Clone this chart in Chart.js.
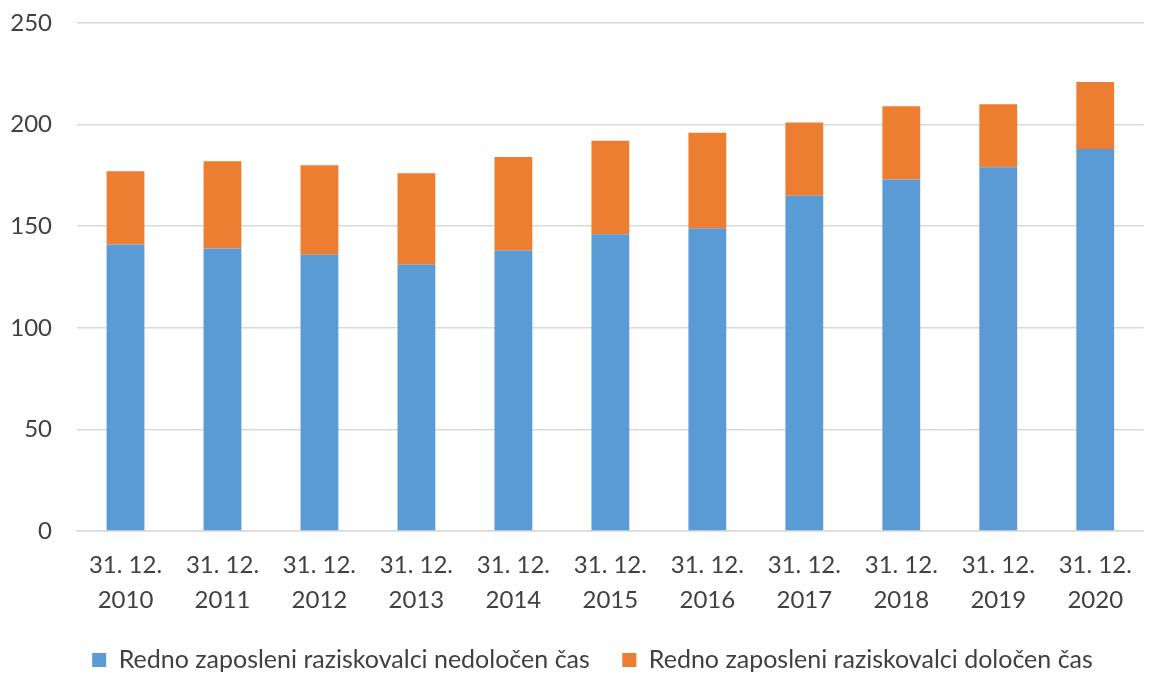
<!DOCTYPE html>
<html>
<head>
<meta charset="utf-8">
<script src="https://cdn.jsdelivr.net/npm/chart.js@4"></script>
<style>
    html, body { margin: 0; padding: 0; background: #fff; }
    #wrap { width: 1149px; height: 673px; }
</style>
</head>
<body>
<div id="wrap"><canvas id="researchers"></canvas></div>
<script>
var years = ['2010', '2011', '2012', '2013', '2014', '2015', '2016', '2017', '2018', '2019', '2020'];
var permanent = [141, 139, 136, 131, 138, 146, 149, 165, 173, 179, 188];
var temporary = [36, 43, 44, 45, 46, 46, 47, 36, 36, 31, 33];
var yTicks = [0, 50, 100, 150, 200, 250];

var labels = years.map(function (y) { return ['31. 12.', y]; });

Chart.defaults.font.family = 'Lato, "Open Sans", sans-serif';
Chart.defaults.color = '#404040';

// nudge the legend a little to the right, like in the original
var legendShift = {
    id: 'legendShift',
    afterLayout: function (chart) {
        chart.legend.left += 20;
        chart.legend.right += 20;
    }
};

const ctx = document.getElementById('researchers');

var researchersChart = new Chart(ctx, {
    type: 'bar',
    data: {
        labels: labels,
        datasets: [{
            label: 'Redno zaposleni raziskovalci nedoločen čas',
            data: permanent,
            backgroundColor: '#5B9BD5'
        }, {
            label: 'Redno zaposleni raziskovalci določen čas',
            data: temporary,
            backgroundColor: '#ED7D31'
        }]
    },
    plugins: [legendShift],
    options: {
        responsive: true,
        maintainAspectRatio: false,
        animation: false,
        layout: {
            padding: { top: 23, right: 4, left: 0, bottom: -9.5 }
        },
        datasets: {
            bar: {
                barPercentage: 0.39,
                categoryPercentage: 1
            }
        },
        plugins: {
            legend: {
                position: 'bottom',
                labels: {
                    boxWidth: 14,
                    boxHeight: 14,
                    padding: 32.5,
                    font: { size: 25 },
                    color: '#404040'
                }
            },
            tooltip: { enabled: false }
        },
        scales: {
            x: {
                stacked: true,
                grid: {
                    display: false,
                    drawTicks: false
                },
                border: {
                    color: '#d9d9d9',
                    width: 1.5
                },
                ticks: {
                    maxRotation: 0,
                    autoSkip: false,
                    padding: 17,
                    font: { size: 24, lineHeight: 1.46 }
                },
                afterFit: function (scale) {
                    scale.height = 84;
                }
            },
            y: {
                stacked: true,
                min: 0,
                max: 250,
                afterBuildTicks: function (scale) {
                    scale.ticks = yTicks.map(function (v) { return { value: v }; });
                },
                grid: {
                    color: '#d9d9d9',
                    lineWidth: 1.5,
                    drawTicks: false
                },
                border: {
                    display: false
                },
                ticks: {
                    padding: 25,
                    font: { size: 24 }
                },
                afterFit: function (scale) {
                    scale.width = 77;
                    scale.paddingTop = 0;
                    scale.paddingBottom = 0;
                }
            }
        }
    }
});
</script>
</body>
</html>
